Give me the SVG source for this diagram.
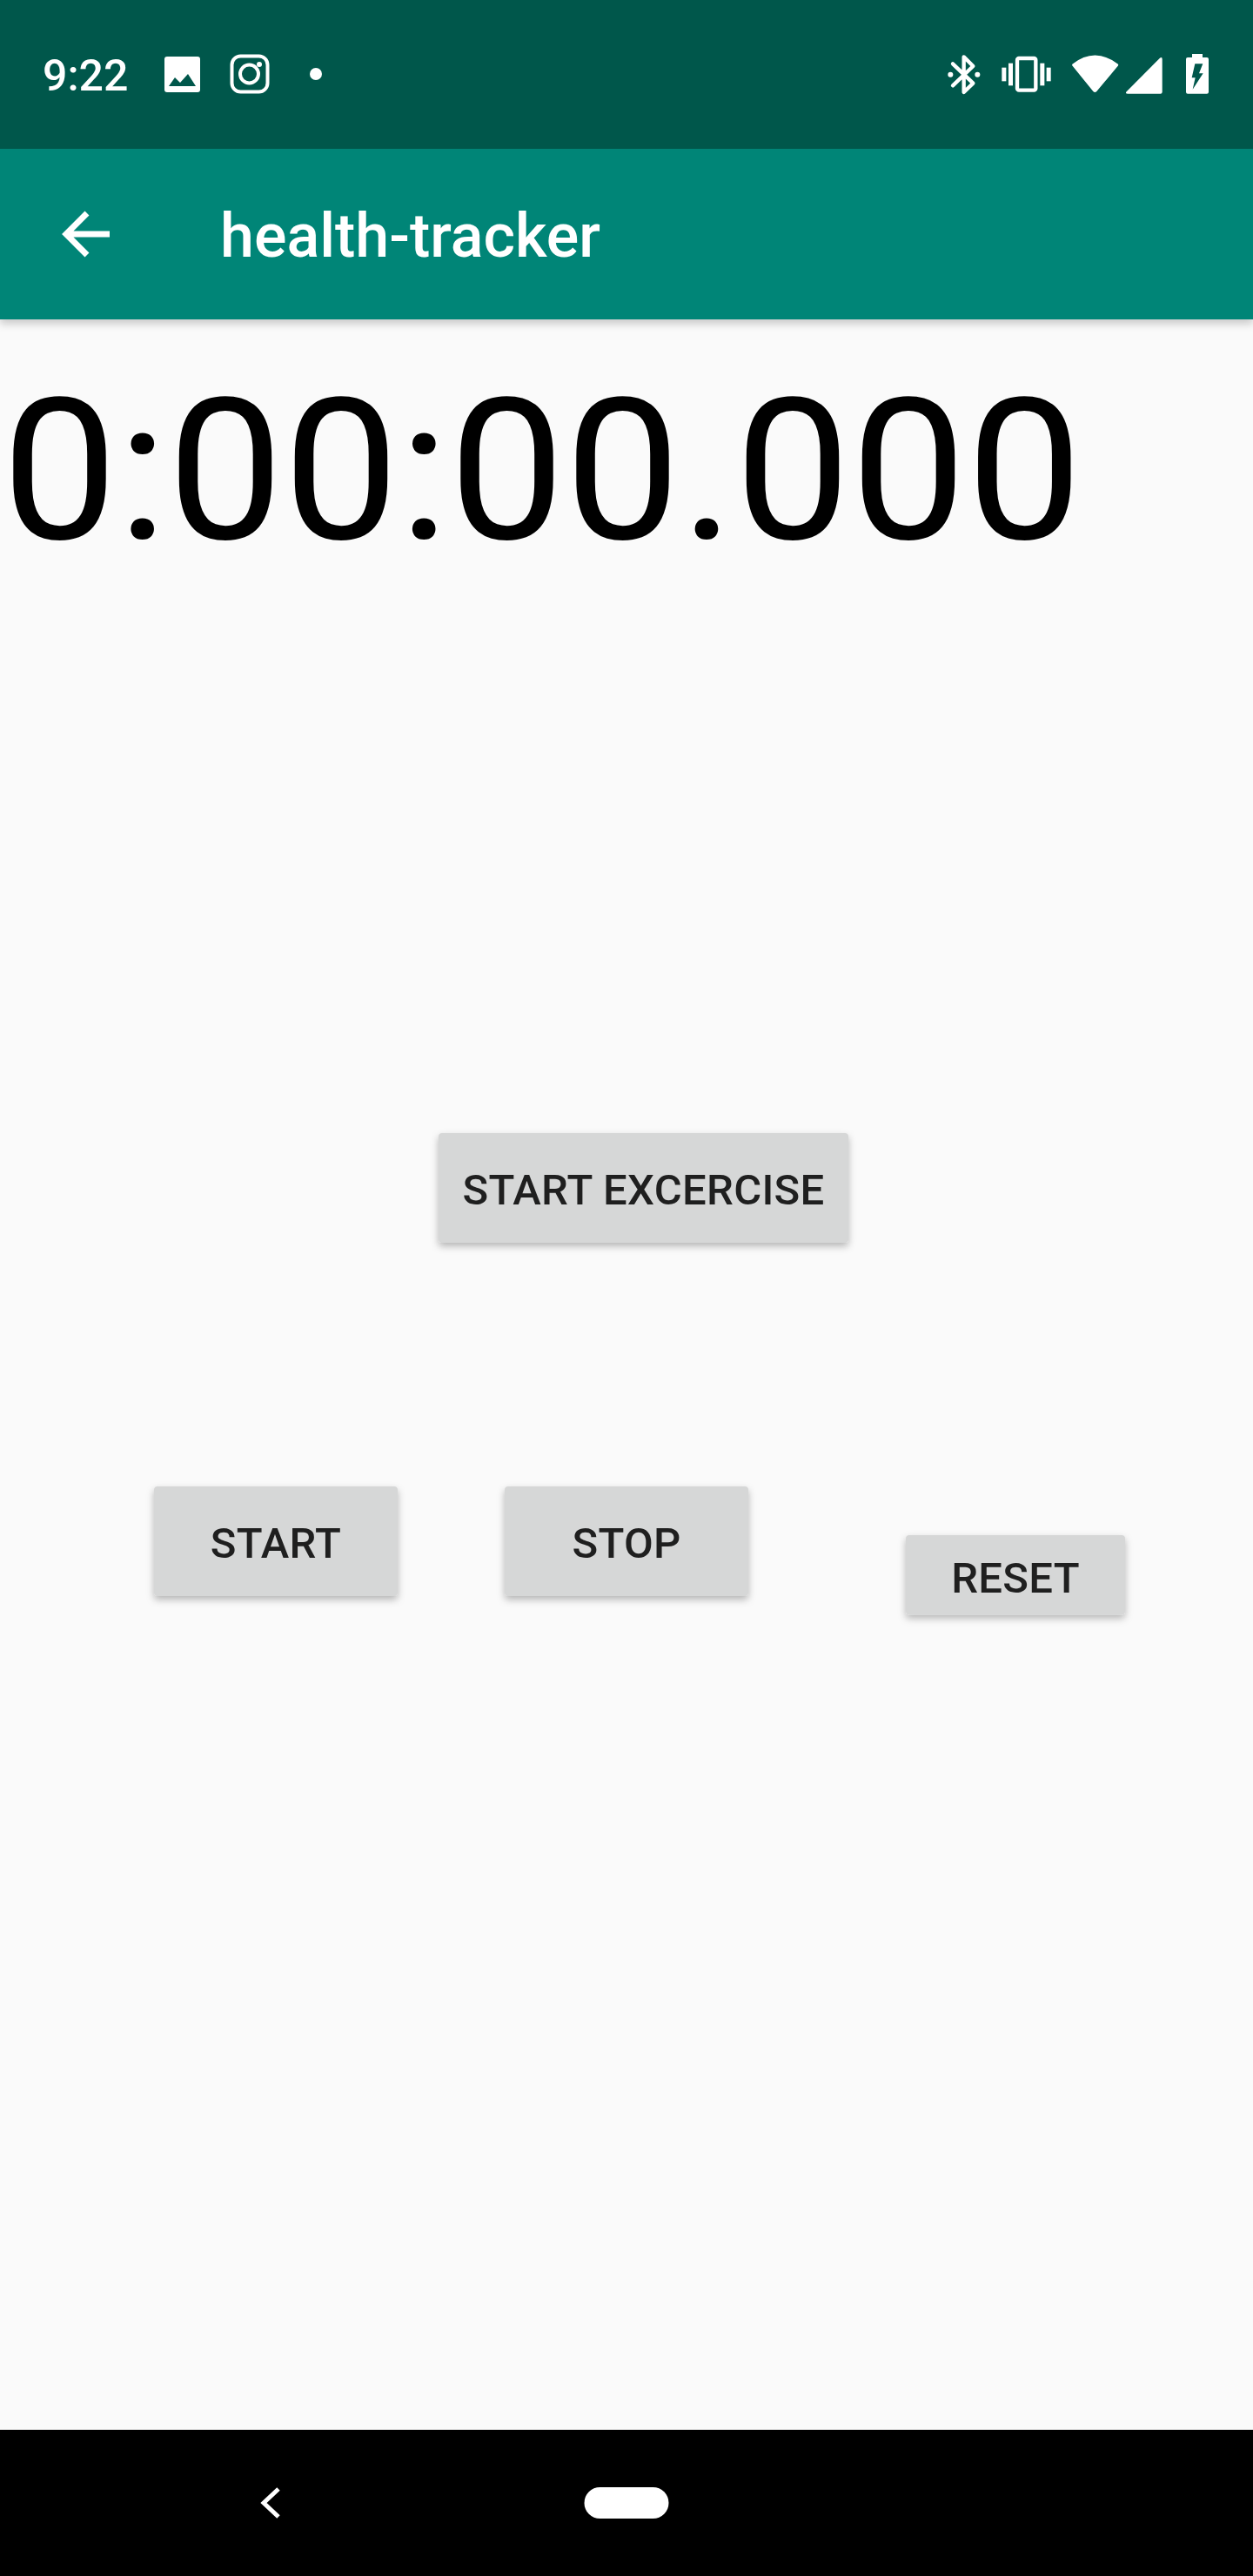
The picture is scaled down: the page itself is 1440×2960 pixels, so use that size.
<svg xmlns="http://www.w3.org/2000/svg" width="1440" height="2960" viewBox="0 0 1440 2960">
<style>
text{font-family:Roboto,"Liberation Sans",sans-serif}
.btn{fill:#d6d7d7;filter:url(#bs)}
.lbl{font-size:49px;font-weight:500;fill:#1f1f1f;letter-spacing:.3px;text-anchor:middle}
.w{fill:#fff}
.g{fill:#00574b}
</style>
<defs>
<filter id="bs" x="-10%" y="-15%" width="120%" height="135%"><feDropShadow dx="0" dy="4" stdDeviation="4" flood-color="#000" flood-opacity="0.28"/></filter>
<filter id="as" x="-2%" y="-10%" width="104%" height="130%"><feDropShadow dx="0" dy="5" stdDeviation="5" flood-color="#000" flood-opacity="0.2"/></filter>
</defs>
<rect width="1440" height="2960" fill="#fafafa"/>
<g id="appbar"><rect y="171" width="1440" height="196" fill="#008577" filter="url(#as)"/>
<path d="M126 269H76M100 245L76 269L100 293" fill="none" stroke="#fff" stroke-width="7"/>
<text x="253" y="295" font-size="70" font-weight="500" fill="#fff">health-tracker</text></g>
<g id="statusbar"><rect width="1440" height="171" fill="#00574b"/>
<text x="49" y="104" font-size="50" font-weight="500" fill="#fff">9:22</text>
<rect class="w" x="189" y="65" width="41" height="41" rx="3"/>
<path class="g" d="M194 99L201 89L207 95L216 85L225 99Z"/>
<rect x="266.500" y="64.500" width="41" height="41" rx="10" fill="none" stroke="#fff" stroke-width="4"/>
<circle cx="286.500" cy="85" r="10.500" fill="none" stroke="#fff" stroke-width="4"/>
<circle class="w" cx="298" cy="74" r="3"/>
<circle class="w" cx="363" cy="85" r="7"/>
<g transform="translate(1040 30) scale(.33333)">
<path d="M165 130L235 197L203 228V106L235 138L165 205" fill="none" stroke="#fff" stroke-width="13" stroke-linecap="round" stroke-linejoin="round"/>
<circle class="w" cx="157" cy="167" r="9"/><circle class="w" cx="250" cy="167" r="9"/>
<rect x="387" y="111" width="64" height="110" rx="6" fill="none" stroke="#fff" stroke-width="13"/>
<rect class="w" x="357" y="128" width="15" height="77"/><rect class="w" x="334" y="143" width="15" height="47"/>
<rect class="w" x="466" y="128" width="15" height="77"/><rect class="w" x="488" y="143" width="15" height="47"/>
<path class="w" d="M577 131Q655 70 735 131Q737 135 733 139L661 225Q655 231 649 225L579 139Q575 135 577 131Z"/>
<path class="w" d="M887 114V227Q887 233 881 233H768Q758 233 764 226L878 111Q887 104 887 114Z"/>
<path class="w" d="M990 96H1026V108H1041Q1047 108 1047 114V227Q1047 233 1041 233H975Q969 233 969 227V114Q969 108 975 108H990Z"/>
<path class="g" d="M1000 130H1027L1014 163H1028L992 218L1001 178H989Z"/>
</g></g>
<text id="timer" transform="translate(2 618.500) scale(.995 .955)" font-size="238" fill="#000">0:00:00.000</text>
<g id="btn-start-excercise"><rect class="btn" x="504" y="1302" width="471" height="126" rx="4"/><text class="lbl" x="739.500" y="1384">START EXCERCISE</text></g>
<g id="btn-start"><rect class="btn" x="177" y="1708" width="280" height="126" rx="4"/><text class="lbl" x="317" y="1790">START</text></g>
<g id="btn-stop"><rect class="btn" x="580" y="1708" width="280" height="126" rx="4"/><text class="lbl" x="720" y="1790">STOP</text></g>
<g id="btn-reset"><rect class="btn" x="1041" y="1764" width="252" height="91.500" rx="4"/><text class="lbl" x="1167" y="1830">RESET</text></g>
<g id="navbar"><rect y="2792" width="1440" height="168" fill="#000"/>
<path d="M320 2860L303 2876L320 2892" fill="none" stroke="#fff" stroke-width="5"/>
<rect class="w" x="671.500" y="2858" width="97" height="36" rx="18"/></g>
<g id="connectors"/>
</svg>
